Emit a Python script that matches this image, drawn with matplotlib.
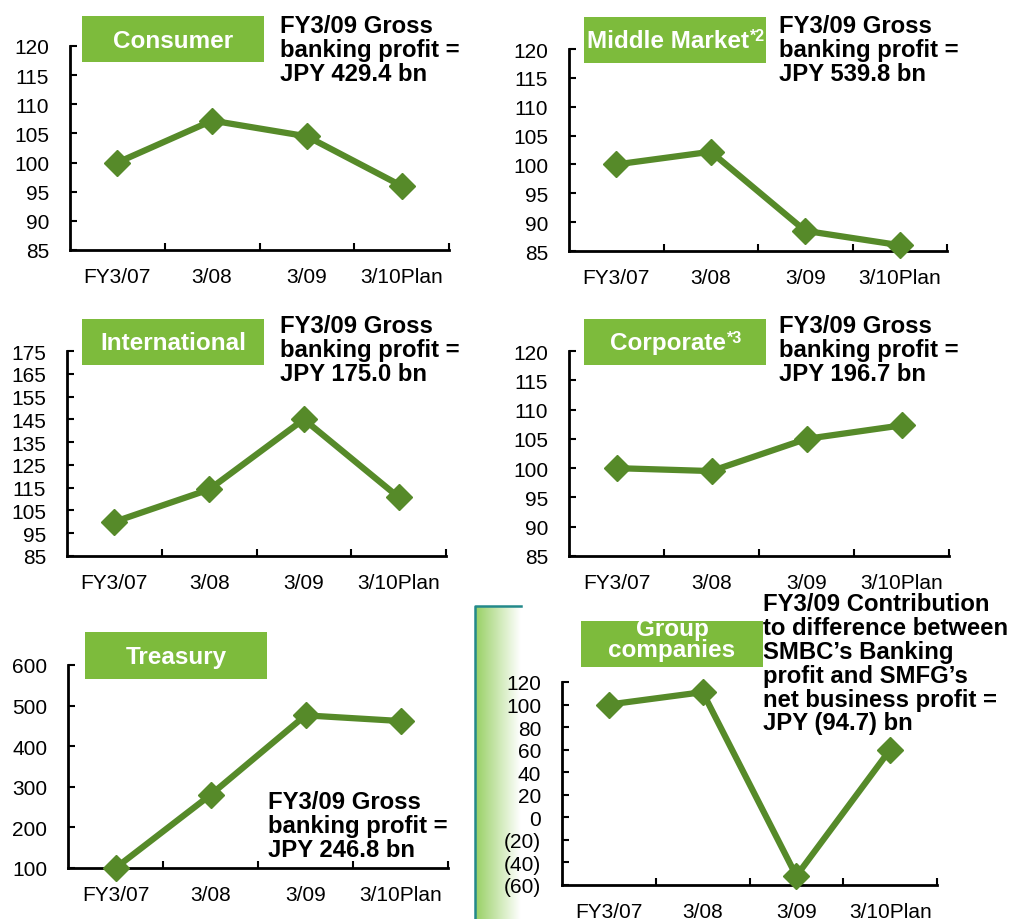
import numpy as np
import matplotlib
matplotlib.use("Agg")
import matplotlib.pyplot as plt
from matplotlib.colors import LinearSegmentedColormap
from matplotlib.patches import Rectangle

plt.rcParams['font.family'] = ['Liberation Sans', 'DejaVu Sans']

W, H = 1009, 920

periods = ['FY3/07', '3/08', '3/09', '3/10Plan']

consumer = [100, 107.2, 104.5, 96.0]
middle_market = [100, 102.2, 88.5, 86.0]
international = [100, 114.2, 145.0, 110.8]
corporate = [100, 99.5, 105.0, 107.3]
treasury = [100, 280, 476, 462]
group_companies = [100, 111, -52, 60]

profit_notes = [
    'FY3/09 Gross\nbanking profit =\nJPY 429.4 bn',
    'FY3/09 Gross\nbanking profit =\nJPY 539.8 bn',
    'FY3/09 Gross\nbanking profit =\nJPY 175.0 bn',
    'FY3/09 Gross\nbanking profit =\nJPY 196.7 bn',
    'FY3/09 Gross\nbanking profit =\nJPY 246.8 bn',
    'FY3/09 Contribution\nto difference between\nSMBC\u2019s Banking\nprofit and SMFG\u2019s\nnet business profit =\nJPY (94.7) bn',
]

LINE = '#568a29'
BOX = '#7dbb3c'

fig = plt.figure(figsize=(W / 100, H / 100), dpi=100)


def paren(v):
    return f'({-v:g})' if v < 0 else f'{v:g}'


def panel(x0, x1, ytop, ybot, values, lo, hi, step):
    ax = fig.add_axes([x0 / W, 1 - ybot / H, (x1 - x0) / W, (ybot - ytop) / H])
    x = np.arange(len(periods))
    ax.plot(x, values, color=LINE, lw=4.5, marker='D', ms=13.5,
            clip_on=False, zorder=3)
    ax.set_xlim(-0.5, len(periods) - 0.5)
    ax.set_ylim(lo, hi)
    ticks = np.arange(lo, hi + step / 2, step)
    ax.set_yticks(ticks)
    ax.set_yticklabels([paren(t) for t in ticks])
    ax.set_xticks(x)
    ax.set_xticklabels(periods)
    ax.set_xticks(np.arange(0.5, len(periods), 1.0), minor=True)
    ax.tick_params(axis='x', which='major', length=0, pad=12, labelsize=15)
    ax.tick_params(axis='x', which='minor', direction='in', length=5, width=1.5)
    ax.tick_params(axis='y', direction='in', length=5, width=1.5, pad=15,
                   labelsize=15)
    for s in ['top', 'right']:
        ax.spines[s].set_visible(False)
    for s in ['left', 'bottom']:
        ax.spines[s].set_linewidth(2)
    ax.patch.set_visible(False)
    return ax


panel(70, 449, 47, 251, consumer, 85, 120, 5)
panel(569, 947, 50, 252, middle_market, 85, 120, 5)
panel(67, 446, 352, 557, international, 85, 175, 10)
panel(569, 949, 352, 557, corporate, 85, 120, 5)
panel(68, 448, 666, 869, treasury, 100, 600, 100)
panel(562, 937, 683, 886, group_companies, -60, 120, 20)

# overlay in pixel coordinates for labels, notes and the side bar
ov = fig.add_axes([0, 0, 1, 1], zorder=-1)
ov.set_xlim(0, W)
ov.set_ylim(H, 0)
ov.axis('off')

# green fade bar on the left of the group panel
fade = LinearSegmentedColormap.from_list('fade', ['#98d064', '#ffffff'])
ov.imshow(np.linspace(0, 1, 64).reshape(1, -1), cmap=fade, aspect='auto',
          extent=[475, 521, 920, 607], interpolation='bicubic')
ov.plot([475, 475, 521], [920, 607, 607], color='#23898a', lw=1.8)


def label_box(x0, x1, y0, y1, text, sup=None, tx=None, dy=1):
    ov.add_patch(Rectangle((x0, y0), x1 - x0, y1 - y0, color=BOX, lw=0))
    cx = (x0 + x1) / 2 if tx is None else tx
    t = ov.text(cx, (y0 + y1) / 2 + dy, text, color='white', fontsize=17.5,
                fontweight='bold', ha='center' if tx is None else 'left',
                va='center', linespacing=0.92)
    if sup:
        ov.annotate(sup, xy=(1, 1), xycoords=t, xytext=(0.5, 1),
                    textcoords='offset points', va='top', ha='left',
                    color='white', fontsize=11.5, fontweight='bold')


label_box(82, 264, 17, 63, 'Consumer')
label_box(584, 766, 18, 64, 'Middle Market', sup='*2', tx=587)
label_box(82, 264, 320, 366, 'International')
label_box(584, 766, 320, 366, 'Corporate', sup='*3', tx=610)
label_box(85, 267, 633, 680, 'Treasury')
label_box(581, 763, 622, 668, 'Group\ncompanies', dy=-5)

note_pos = [(280, 15), (779, 15), (280, 315), (779, 315), (268, 791), (763, 593)]
for (nx, ny), note in zip(note_pos, profit_notes):
    ov.text(nx, ny, note, fontsize=17.2, fontweight='bold', ha='left', va='top',
            linespacing=1.05, color='black')

fig.savefig('out.png', dpi=100)
